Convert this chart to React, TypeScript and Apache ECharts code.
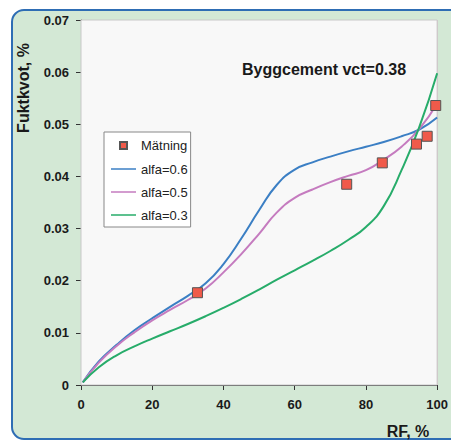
import React, { useEffect, useRef } from "react";
import * as echarts from "echarts";

const rf = [0.5, 5, 10, 15, 20, 25, 30, 35, 40, 45, 50, 55, 60, 65, 70, 75, 80, 85, 90, 95, 100];
const alfa06 = [0.0005, 0.0045, 0.0077, 0.0105, 0.0128, 0.015, 0.0171, 0.0195, 0.0232, 0.0281, 0.0335, 0.0384, 0.0413, 0.0427, 0.0438, 0.0448, 0.0457, 0.0466, 0.0477, 0.049, 0.0513];
const alfa05 = [0.0005, 0.0043, 0.0075, 0.0101, 0.0124, 0.0144, 0.0163, 0.0185, 0.0216, 0.0251, 0.029, 0.0331, 0.0359, 0.0375, 0.0389, 0.0401, 0.0412, 0.0432, 0.0457, 0.0491, 0.054];
const alfa03 = [0.0005, 0.0034, 0.0057, 0.0074, 0.0089, 0.0103, 0.0117, 0.0132, 0.0148, 0.0165, 0.0183, 0.0202, 0.022, 0.0238, 0.0257, 0.0278, 0.0303, 0.0343, 0.0412, 0.0495, 0.0598];
const matRF = [32.7, 74.6, 84.6, 94.2, 97.2, 99.6];
const matVal = [0.0177, 0.0385, 0.0426, 0.0462, 0.0477, 0.0536];

const pair = (xs: number[], ys: number[]) => xs.map((x, i) => [x, ys[i]]);

export default function App() {
  const ref = useRef<HTMLDivElement>(null);
  useEffect(() => {
    const chart = echarts.init(ref.current!, null, { renderer: "svg" });
    const font = "Arial, 'Liberation Sans', sans-serif";
    const lineIcon = "path://M0,0M25,14M0,6.25h25v1.5h-25z";
    const lineSeries = (name: string, data: number[], color: string) => ({
      name, type: "line", data: pair(rf, data), smooth: 0.5,
      symbol: "none", lineStyle: { color, width: 2 }, itemStyle: { color }, z: 3,
    });
    chart.setOption({
      animation: false,
      grid: {
        left: 81, top: 20, right: 6, bottom: 56, show: true,
        backgroundColor: "#f8f8f8", borderColor: "#c8c8c8", borderWidth: 1, z: 1,
      },
      graphic: [
        {
          type: "rect", z: -100, silent: true,
          shape: { x: 12, y: 10, width: 460, height: 429, r: 12 },
          style: { fill: "#d3e8d5", stroke: "#2e6db4", lineWidth: 2 },
        },
        {
          type: "text", x: 242, y: 69, z: 100,
          style: { text: "Byggcement vct=0.38", font: `bold 16px ${font}`, fill: "#1a1a1a", verticalAlign: "middle" },
        },
        {
          type: "text", x: 23, y: 88, rotation: Math.PI / 2, z: 100,
          style: { text: "Fuktkvot, %", font: `bold 16px ${font}`, fill: "#1a1a1a", align: "center", verticalAlign: "middle" },
        },
        {
          type: "text", x: 408, y: 431, z: 100,
          style: { text: "RF, %", font: `bold 16px ${font}`, fill: "#1a1a1a", align: "center", verticalAlign: "middle" },
        },
      ],
      legend: {
        orient: "vertical", left: 104, top: 132,
        padding: [5, 3, 5, 6], itemGap: 9, itemWidth: 25, itemHeight: 14,
        backgroundColor: "#ffffff", borderColor: "#888", borderWidth: 1,
        textStyle: { fontFamily: font, fontSize: 13, color: "#222" },
        data: [
          { name: "Mätning", icon: "path://M0,0M25,14M9,4h7v7h-7z" },
          { name: "alfa=0.6", icon: lineIcon },
          { name: "alfa=0.5", icon: lineIcon },
          { name: "alfa=0.3", icon: lineIcon },
        ],
      },
      xAxis: {
        type: "value", min: 0, max: 100, interval: 20,
        axisLine: { show: true, onZero: false, lineStyle: { color: "#333", width: 1 } },
        axisTick: { show: true, length: 5, lineStyle: { color: "#333" } },
        splitLine: { show: true, lineStyle: { color: "#d9c6c8", width: 1 } },
        axisLabel: { fontFamily: font, fontSize: 13, fontWeight: "bold", color: "#1a1a1a", margin: 13 },
      },
      yAxis: {
        type: "value", min: 0, max: 0.07, interval: 0.01,
        axisLine: { show: true, onZero: false, lineStyle: { color: "#333", width: 1 } },
        axisTick: { show: true, length: 5, lineStyle: { color: "#333" } },
        splitLine: { show: true, lineStyle: { color: "#d9c6c8", width: 1 } },
        axisLabel: {
          fontFamily: font, fontSize: 13, fontWeight: "bold", color: "#1a1a1a", margin: 12,
          formatter: (v: number) => (Math.abs(v) < 1e-9 ? "0" : v.toFixed(2)),
        },
      },
      series: [
        lineSeries("alfa=0.6", alfa06, "#3b7fc4"),
        lineSeries("alfa=0.5", alfa05, "#c57bbf"),
        lineSeries("alfa=0.3", alfa03, "#27ac6a"),
        {
          name: "Mätning", type: "scatter", data: pair(matRF, matVal), symbol: "rect", symbolSize: 10,
          itemStyle: { color: "#f05a4a", borderColor: "#555", borderWidth: 1, opacity: 1 }, z: 5,
        },
      ],
    });
    return () => chart.dispose();
  }, []);
  return <div ref={ref} style={{ position: "absolute", left: 0, top: 0, width: 451, height: 441 }} />;
}
